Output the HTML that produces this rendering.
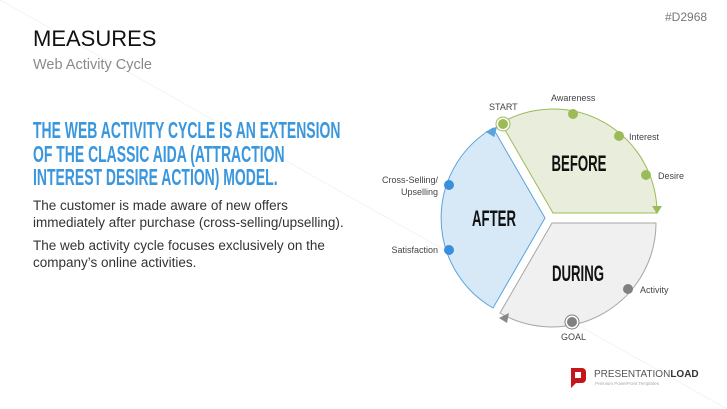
<!DOCTYPE html>
<html><head><meta charset="utf-8"><style>
body{margin:0;width:727px;height:409px;overflow:hidden;background:#fff;font-family:"Liberation Sans",sans-serif;position:relative}
.a{position:absolute;white-space:nowrap}
</style></head><body>
<svg class="a" style="left:0;top:0" width="727" height="409"><line x1="0" y1="0" x2="727" y2="409" stroke="#f4f4f4" stroke-width="1"/></svg>
<div class="a" style="left:33px;top:26px;font-size:22px;color:#111">MEASURES</div>
<div class="a" style="left:33px;top:57px;font-size:14.5px;color:#8a8a8a">Web Activity Cycle</div>
<div class="a" style="left:665px;top:10px;font-size:12px;color:#777">#D2968</div>
<div class="a" style="left:33px;top:119px;font-size:23px;line-height:23.5px;color:#3a97dd;font-weight:bold;transform:scaleX(0.607);transform-origin:0 0">THE WEB ACTIVITY CYCLE IS AN EXTENSION<br>OF THE CLASSIC AIDA (ATTRACTION<br>INTEREST DESIRE ACTION) MODEL.</div>
<div class="a" style="left:33px;top:198px;font-size:13.5px;line-height:16.5px;color:#333">The customer is made aware of new offers<br>immediately after purchase (cross-selling/upselling).</div>
<div class="a" style="left:33px;top:238px;font-size:13.5px;line-height:16.5px;color:#333">The web activity cycle focuses exclusively on the<br>company’s online activities.</div>
<svg class="a" style="left:0;top:0" width="727" height="409" font-family="Liberation Sans, sans-serif">
<path d="M553,213 L501,123 A104,104 0 0 1 657,213 Z" fill="#e9eedc" stroke="#9bbb59" stroke-width="1"/>
<path d="M552,223 L656,223 A104,104 0 0 1 500,313 Z" fill="#f0f0f0" stroke="#a6a6a6" stroke-width="1"/>
<path d="M545,218 L493,308 A104,104 0 0 1 493,128 Z" fill="#d7e8f6" stroke="#5ba3dc" stroke-width="1"/>
<polygon points="652,206 662,206 657,214" fill="#9bbb59"/>
<polygon points="486,133 496,125 496,136" fill="#5ba3dc" transform="rotate(15 491 130)"/>
<polygon points="499,318 509,313 507,323" fill="#888"/>
<circle cx="503" cy="124" r="7" fill="#fff" stroke="#9bbb59"/><circle cx="503" cy="124" r="5" fill="#9bbb59"/>
<circle cx="573" cy="114" r="5" fill="#9bbb59"/>
<circle cx="619" cy="136" r="5" fill="#9bbb59"/>
<circle cx="646" cy="175" r="5" fill="#9bbb59"/>
<circle cx="449" cy="185" r="5" fill="#3a8fdc"/>
<circle cx="449" cy="250" r="5" fill="#3a8fdc"/>
<circle cx="628" cy="289" r="5" fill="#808080"/>
<circle cx="572" cy="322" r="7" fill="#fff" stroke="#808080"/><circle cx="572" cy="322" r="5" fill="#808080"/>
<g font-size="9" fill="#444">
<text x="489" y="110">START</text>
<text x="551" y="101">Awareness</text>
<text x="629" y="140">Interest</text>
<text x="658" y="179">Desire</text>
<text x="438" y="183" text-anchor="end">Cross-Selling/</text>
<text x="438" y="195" text-anchor="end">Upselling</text>
<text x="438" y="253" text-anchor="end">Satisfaction</text>
<text x="640" y="293">Activity</text>
<text x="561" y="340">GOAL</text>
</g>
<g font-size="22" font-weight="bold" fill="#111">
<text x="579" y="171" text-anchor="middle" transform="translate(579 0) scale(0.6 1) translate(-579 0)">BEFORE</text>
<text x="494" y="226" text-anchor="middle" transform="translate(494 0) scale(0.6 1) translate(-494 0)">AFTER</text>
<text x="578" y="281" text-anchor="middle" transform="translate(578 0) scale(0.6 1) translate(-578 0)">DURING</text>
</g>
<path d="M571,368 h11 a4,4 0 0 1 4,4 v7 a4,4 0 0 1 -4,4 h-6 l-5,5 z" fill="#c4161c"/>
<rect x="575" y="372" width="6" height="6" fill="#fff"/>
<text x="594" y="377" font-size="10" fill="#555">PRESENTATION<tspan font-weight="bold" fill="#333">LOAD</tspan></text>
<text x="595" y="385" font-size="4.5" fill="#aaa">Premium PowerPoint Templates</text>
</svg>
</body></html>
